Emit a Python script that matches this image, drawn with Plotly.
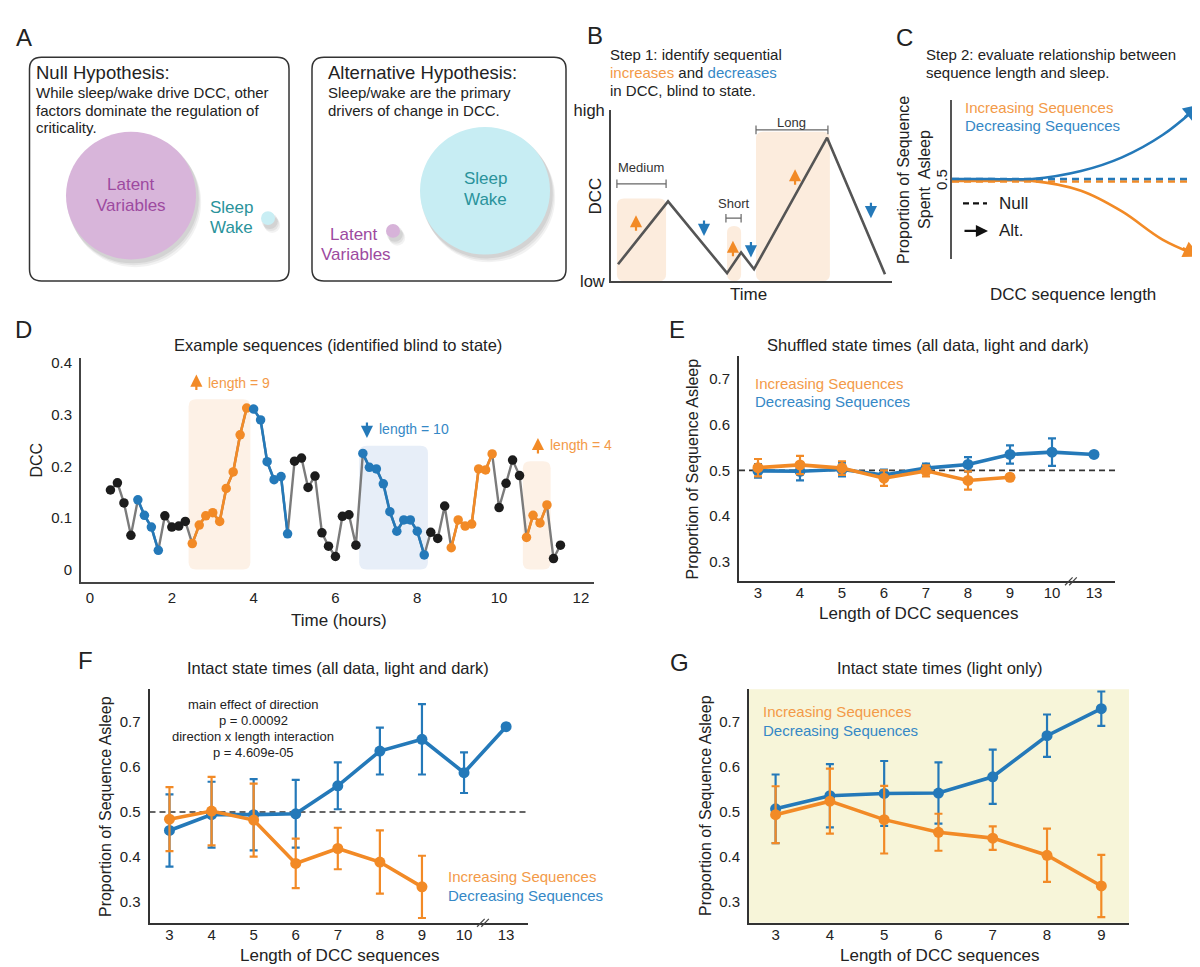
import plotly.graph_objects as go

# ======================= DATA =======================
# Panel D: example DCC trace (10-min bins)
dcc_time_hours = [0.50, 0.67, 0.83,
                  1.00, 1.17, 1.33, 1.50, 1.67, 1.83,
                  2.00, 2.17, 2.33, 2.50, 2.67, 2.83,
                  3.00, 3.17, 3.33, 3.50, 3.67, 3.83,
                  4.00, 4.17, 4.33, 4.50, 4.67, 4.83,
                  5.00, 5.17, 5.33, 5.50, 5.67, 5.83,
                  6.00, 6.17, 6.33, 6.50, 6.67, 6.83,
                  7.00, 7.17, 7.33, 7.50, 7.67, 7.83,
                  8.00, 8.17, 8.33, 8.50, 8.67, 8.83,
                  9.00, 9.17, 9.33, 9.50, 9.67, 9.83,
                  10.00, 10.17, 10.33, 10.50, 10.67, 10.83,
                  11.00, 11.17, 11.33, 11.50]
dcc_values = [0.154, 0.168, 0.129, 0.066,
              0.135, 0.105, 0.082, 0.037,
              0.104, 0.082, 0.084, 0.093,
              0.050, 0.086, 0.104, 0.110, 0.093, 0.157, 0.189, 0.261, 0.313,
              0.311, 0.290, 0.209, 0.174, 0.180, 0.069,
              0.210, 0.216, 0.159, 0.181, 0.071, 0.045, 0.025, 0.103, 0.106, 0.047,
              0.225, 0.198, 0.195, 0.166, 0.112, 0.074, 0.096, 0.096, 0.074, 0.028,
              0.072, 0.060, 0.123,
              0.042, 0.096, 0.084, 0.088, 0.195, 0.193, 0.224,
              0.120, 0.167, 0.212, 0.182,
              0.062, 0.105, 0.090, 0.125,
              0.021, 0.047]
dcc_state = list("nnnn" + "dddd" + "nnnn" + "iiiiiiiii" + "dddddd" + "nnnnnnnnnn"
                 + "dddddddddd" + "nnn" + "iiiiiii" + "nnnn" + "iiii" + "nn")
highlight_runs = [(12, 20), (37, 46), (61, 64)]
highlight_state = ["i", "d", "i"]
highlight_top = [0.33, 0.24, 0.21]

# Panels E/F/G
length_categories = ["3", "4", "5", "6", "7", "8", "9", "10", "13"]
light_categories = ["3", "4", "5", "6", "7", "8", "9"]

e_inc_mean = [0.506, 0.512, 0.505, 0.483, 0.499, 0.478, 0.485]
e_inc_err = [0.019, 0.020, 0.015, 0.017, 0.012, 0.020, 0.006]
e_dec_mean = [0.499, 0.498, 0.502, 0.490, 0.505, 0.513, 0.535, 0.540, 0.535]
e_dec_err = [0.015, 0.020, 0.015, 0.012, 0.010, 0.016, 0.020, 0.030, 0.0]

f_inc_mean = [0.484, 0.502, 0.482, 0.386, 0.419, 0.389, 0.334]
f_inc_err = [0.071, 0.076, 0.081, 0.055, 0.046, 0.070, 0.069]
f_dec_mean = [0.459, 0.494, 0.494, 0.496, 0.558, 0.635, 0.661, 0.587, 0.689]
f_dec_err = [0.080, 0.073, 0.079, 0.075, 0.052, 0.052, 0.078, 0.045, 0.0]

g_inc_mean = [0.494, 0.524, 0.483, 0.455, 0.442, 0.404, 0.336]
g_inc_err = [0.063, 0.072, 0.075, 0.041, 0.026, 0.059, 0.069]
g_dec_mean = [0.507, 0.536, 0.541, 0.542, 0.578, 0.669, 0.729]
g_dec_err = [0.076, 0.070, 0.072, 0.068, 0.060, 0.047, 0.038]

# Panel B schematic (arbitrary units)
b_time = [0.25, 2.03, 4.13, 4.63, 5.09, 7.69, 9.75]
b_level = [0.98, 4.66, 0.46, 1.67, 0.69, 8.39, 0.40]
b_seq_names = ["Medium", "Short", "Long"]
b_seq_start = [0.21, 4.13, 5.16]
b_seq_end = [1.96, 4.63, 7.79]
b_seq_top = [4.83, 3.22, 8.74]

# Panel C schematic (arbitrary units)
c_length = [0, 1.5, 3.13, 5.04, 6.64, 8.24, 9.70]
c_dec_alt = [5.06, 5.06, 5.06, 5.56, 6.42, 7.84, 9.75]
c_inc_alt = [4.94, 4.94, 4.94, 4.32, 3.02, 1.23, 0.18]
c_null_dec = 5.06
c_null_inc = 4.90

# ======================= STYLE =======================
W, H = 1200, 967
FONT = "Liberation Sans, Arial, sans-serif"
ORANGE = "#f28a26"
BLUE = "#2479b9"
ORANGE_T = "#f39a48"
BLUE_T = "#3588c6"
TXT = "#222222"


def PX(x):
    return x / W


def PY(y):
    return 1 - y / H


annotations = []
shapes = []


def ann(text, x, y, size, color=TXT, xanchor="center", yanchor="middle", angle=0):
    annotations.append(dict(text=text, x=PX(x), y=PY(y), xref="paper", yref="paper",
                            showarrow=False, xanchor=xanchor, yanchor=yanchor,
                            textangle=angle, font=dict(size=size, color=color, family=FONT)))


def rrect_px(x0, y0, x1, y1, r):
    pts = [("M", x0 + r, y0), ("L", x1 - r, y0), ("Q", x1, y0, x1, y0 + r),
           ("L", x1, y1 - r), ("Q", x1, y1, x1 - r, y1), ("L", x0 + r, y1),
           ("Q", x0, y1, x0, y1 - r), ("L", x0, y0 + r), ("Q", x0, y0, x0 + r, y0)]
    s = ""
    for p in pts:
        cmd = p[0]
        coords = p[1:]
        conv = []
        for i in range(0, len(coords), 2):
            conv.append(f"{PX(coords[i]):.5f},{PY(coords[i+1]):.5f}")
        s += cmd + " " + " ".join(conv) + " "
    return s + "Z"


def rrect_data(x0, y0, x1, y1, rx, ry):
    return (f"M {x0+rx},{y0} L {x1-rx},{y0} Q {x1},{y0} {x1},{y0+ry} L {x1},{y1-ry} "
            f"Q {x1},{y1} {x1-rx},{y1} L {x0+rx},{y1} Q {x0},{y1} {x0},{y1-ry} "
            f"L {x0},{y0+ry} Q {x0},{y0} {x0+rx},{y0} Z")


def circle_px(cx, cy, r, fill, opacity=1.0):
    shapes.append(dict(type="circle", xref="paper", yref="paper",
                       x0=PX(cx - r), x1=PX(cx + r), y0=PY(cy + r), y1=PY(cy - r),
                       fillcolor=fill, line=dict(width=0), opacity=opacity, layer="above"))


fig = go.Figure()

# ======================= PANEL A =======================
for (x0, x1) in [(21.5, 281), (304, 558)]:
    shapes.append(dict(type="path", path=rrect_px(x0, 41, x1, 269, 12), xref="paper", yref="paper",
                       line=dict(color="#333333", width=1.5), fillcolor="rgba(0,0,0,0)"))


def shadowed_circle(cx, cy, r, fill):
    for k, op in [(7, 0.05), (5, 0.06), (3, 0.07)]:
        circle_px(cx + k * 0.6, cy + k, r + 1, "#000000", op)
    circle_px(cx, cy, r, fill)


shadowed_circle(123, 182, 65, "#d8b5da")
shadowed_circle(260, 205, 7, "#c9eef4")
shadowed_circle(477, 177, 65, "#c7edf3")
shadowed_circle(385, 218, 7, "#d7b3d9")

ann("A", 16, 21, 24)
ann("Null Hypothesis:", 26, 57, 18.5, xanchor="left")
ann("While sleep/wake drive DCC, other", 26, 77, 15, xanchor="left")
ann("factors dominate the regulation of", 26, 95, 15, xanchor="left")
ann("criticality.", 26, 113, 15, xanchor="left")
ann("Alternative Hypothesis:", 318, 57, 18.5, xanchor="left")
ann("Sleep/wake are the primary", 318, 77, 15, xanchor="left")
ann("drivers of change in DCC.", 318, 95, 15, xanchor="left")
PURP = "#9d4aa0"
TEAL = "#2a939b"
ann("Latent", 123, 171, 17, PURP)
ann("Variables", 123, 192, 17, PURP)
ann("Sleep", 223, 194, 17, TEAL)
ann("Wake", 223, 215, 17, TEAL)
ann("Sleep", 477, 165, 17, TEAL)
ann("Wake", 477, 186, 17, TEAL)
ann("Latent", 346, 222, 17, PURP)
ann("Variables", 348, 242, 17, PURP)

# ======================= PANEL B =======================
ann("B", 587, 19, 24)
ann("Step 1: identify sequential", 600, 38, 15, xanchor="left")
ann(f"<span style='color:{ORANGE_T}'>increases</span> and <span style='color:{BLUE_T}'>decreases</span>",
    600, 57, 15, xanchor="left")
ann("in DCC, blind to state.", 600, 75, 15, xanchor="left")
ann("DCC", 588, 183, 17, angle=-90)
ann("Time", 740, 283, 17)

for s0, s1, top in zip(b_seq_start, b_seq_end, b_seq_top):
    shapes.append(dict(type="path", xref="x5", yref="y5", layer="below",
                       path=rrect_data(s0, 0, s1, top, 0.25, 0.4),
                       fillcolor="#fcecdd", line=dict(width=0)))
fig.add_trace(go.Scatter(x=b_time, y=b_level, mode="lines", xaxis="x5", yaxis="y5",
                         line=dict(color="#555555", width=2.6), hoverinfo="skip", showlegend=False))
bracket_y = [5.69, 3.68, 8.85]
bracket_text_y = [6.67, 4.54, 9.31]
bracket_x = [(0.21, 1.96), (4.09, 4.63), (5.16, 7.72)]
for name, (bx0, bx1), by, ty in zip(b_seq_names, bracket_x, bracket_y, bracket_text_y):
    shapes.append(dict(type="line", xref="x5", yref="y5", x0=bx0, x1=bx1, y0=by, y1=by,
                       line=dict(color="#666666", width=1.2)))
    for bx in (bx0, bx1):
        shapes.append(dict(type="line", xref="x5", yref="y5", x0=bx, x1=bx, y0=by - 0.25, y1=by + 0.25,
                           line=dict(color="#666666", width=1.2)))
    annotations.append(dict(text=name, x=(bx0 + bx1) / 2, y=ty, xref="x5", yref="y5", showarrow=False,
                            font=dict(size=13, color="#333333", family=FONT)))
b_arrows = [(0.89, 3.85, ORANGE, 1), (3.31, 2.64, BLUE, -1), (4.34, 2.36, ORANGE, 1),
            (4.98, 1.38, BLUE, -1), (6.55, 6.55, ORANGE, 1), (9.25, 3.68, BLUE, -1)]
for ax_, ay_, col, d in b_arrows:
    annotations.append(dict(text="", x=ax_, y=ay_, xref="x5", yref="y5", showarrow=True,
                            ax=0, ay=17 * d, arrowhead=2, arrowsize=1.1, arrowwidth=2.2,
                            arrowcolor=col))

# ======================= PANEL C =======================
ann("C", 896, 21, 24)
ann("Step 2: evaluate relationship between", 916, 38, 15, xanchor="left")
ann("sequence length and sleep.", 916, 57, 15, xanchor="left")
ann("Proportion of Sequence", 896, 166, 16, angle=-90)
ann("Spent  Asleep", 917, 166, 16, angle=-90)
ann("0.5", 934, 166, 15, angle=-90)
ann("Increasing Sequences", 955, 92, 15, ORANGE_T, xanchor="left")
ann("Decreasing Sequences", 955, 111, 15, BLUE_T, xanchor="left")
ann("DCC sequence length", 1065, 283, 17)
ann("Null", 989, 190, 17, xanchor="left")
ann("Alt.", 989, 218, 17, xanchor="left")
shapes.append(dict(type="line", xref="paper", yref="paper", x0=PX(955), x1=PX(979), y0=PY(190), y1=PY(190),
                   line=dict(color="#111111", width=2.2, dash="6px,4px")))
annotations.append(dict(text="", x=PX(980), y=PY(218), xref="paper", yref="paper", showarrow=True,
                        ax=-25, ay=0, arrowhead=2, arrowsize=1.1, arrowwidth=2.2, arrowcolor="#111111"))
for yv, col in [(c_null_inc, ORANGE), (c_null_dec, BLUE)]:
    shapes.append(dict(type="line", xref="x6", yref="y6", x0=0, x1=10, y0=yv, y1=yv,
                       line=dict(color=col, width=2.4, dash="7px,5px")))
fig.add_trace(go.Scatter(x=c_length, y=c_inc_alt, mode="lines", xaxis="x6", yaxis="y6",
                         line=dict(color=ORANGE, width=2.6, shape="spline", smoothing=1.0),
                         hoverinfo="skip", showlegend=False))
fig.add_trace(go.Scatter(x=c_length, y=c_dec_alt, mode="lines", xaxis="x6", yaxis="y6",
                         line=dict(color=BLUE, width=2.6, shape="spline", smoothing=1.0),
                         hoverinfo="skip", showlegend=False))
annotations.append(dict(text="", x=c_length[-1], y=c_dec_alt[-1], xref="x6", yref="y6", showarrow=True,
                        ax=-17, ay=14, arrowhead=2, arrowsize=1.3, arrowwidth=2.6, arrowcolor=BLUE))
annotations.append(dict(text="", x=c_length[-1], y=c_inc_alt[-1], xref="x6", yref="y6", showarrow=True,
                        ax=-19, ay=-9, arrowhead=2, arrowsize=1.3, arrowwidth=2.6, arrowcolor=ORANGE))

# ======================= PANEL D =======================
ann("D", 15, 318, 24)
ann("Example sequences (identified blind to state)", 330, 334, 16.5)
ann("DCC", 29, 452, 16, angle=-90)
ann("Time (hours)", 331, 615, 17)

state_color = {"n": "#1c1c1c", "i": ORANGE, "d": BLUE}
for (i0, i1), st, top in zip(highlight_runs, highlight_state, highlight_top):
    x0 = dcc_time_hours[i0] - 0.09
    x1 = dcc_time_hours[i1] + 0.09
    shapes.append(dict(type="path", xref="x", yref="y", layer="below",
                       path=rrect_data(x0, 0, x1, top, 0.18, 0.014),
                       fillcolor="#fdf1e6" if st == "i" else "#e7eef8", line=dict(width=0)))

fig.add_trace(go.Scatter(x=dcc_time_hours, y=dcc_values, mode="lines", xaxis="x", yaxis="y",
                         line=dict(color="#7b7b7b", width=2.4), hoverinfo="skip", showlegend=False))
for st in ["i", "d"]:
    xs, ys = [], []
    for k in range(len(dcc_values) - 1):
        if dcc_state[k] != "n" and dcc_state[k + 1] == st:
            xs += [dcc_time_hours[k], dcc_time_hours[k + 1], None]
            ys += [dcc_values[k], dcc_values[k + 1], None]
    fig.add_trace(go.Scatter(x=xs, y=ys, mode="lines", xaxis="x", yaxis="y",
                             line=dict(color=state_color[st], width=2.6), hoverinfo="skip",
                             showlegend=False))
fig.add_trace(go.Scatter(x=dcc_time_hours, y=dcc_values, mode="markers", xaxis="x", yaxis="y",
                         marker=dict(size=9.5, color=[state_color[s] for s in dcc_state]),
                         hoverinfo="skip", showlegend=False))
seq_label_pos = [(2.60, 0.378, 0.362), (6.77, 0.255, 0.272), (10.95, 0.255, 0.241)]
for (i0, i1), st, (tx, tip, ly) in zip(highlight_runs, highlight_state, seq_label_pos):
    col = ORANGE if st == "i" else BLUE
    annotations.append(dict(text="", x=tx, y=tip, xref="x", yref="y", showarrow=True,
                            ax=0, ay=17 if st == "i" else -17, arrowhead=2, arrowsize=1.1,
                            arrowwidth=2.2, arrowcolor=col))
    annotations.append(dict(text=f"length = {i1 - i0 + 1}", x=tx + 0.24, y=ly, xref="x", yref="y",
                            showarrow=False, xanchor="left",
                            font=dict(size=14, color=ORANGE_T if st == "i" else BLUE_T, family=FONT)))

# ======================= PANELS E/F/G =======================
def add_series(xax, yax, cats_dec, dec_m, dec_e, cats_inc, inc_m, inc_e):
    for cats, m, e, col in [(cats_dec, dec_m, dec_e, BLUE), (cats_inc, inc_m, inc_e, ORANGE)]:
        fig.add_trace(go.Scatter(x=cats, y=m, mode="lines+markers", xaxis=xax, yaxis=yax,
                                 line=dict(color=col, width=3.6), marker=dict(size=11, color=col),
                                 error_y=dict(type="data", array=e, color=col, thickness=2.2, width=4),
                                 hoverinfo="skip", showlegend=False))


add_series("x2", "y2", length_categories, e_dec_mean, e_dec_err, length_categories[:7], e_inc_mean, e_inc_err)
add_series("x3", "y3", length_categories, f_dec_mean, f_dec_err, length_categories[:7], f_inc_mean, f_inc_err)
add_series("x4", "y4", light_categories, g_dec_mean, g_dec_err, light_categories, g_inc_mean, g_inc_err)

for xa, ya in [("x2", "y2"), ("x3", "y3"), ("x4", "y4")]:
    shapes.append(dict(type="line", xref=f"{xa} domain", yref=ya, x0=0, x1=1, y0=0.5, y1=0.5,
                       line=dict(color="#333333", width=1.6, dash="6px,4px"), layer="below"))
shapes.append(dict(type="rect", xref="x4 domain", yref="y4 domain", x0=0, x1=1, y0=0, y1=1,
                   fillcolor="#f7f5d9", line=dict(width=0), layer="below"))

# axis-break marks between 10 and 13
for xa, ybot in [("x2", 575), ("x3", 923)]:
    for off in (-0.1, 0.0):
        shapes.append(dict(type="line", xref=xa, yref="paper", x0=7.5 + off - 0.09, x1=7.5 + off + 0.09,
                           y0=PY(ybot + 4), y1=PY(ybot - 4), line=dict(color="#444444", width=1.2)))

ann("E", 669, 318, 24)
ann("Shuffled state times (all data, light and dark)", 920, 334, 16.5)
ann("Proportion of Sequence Asleep", 684, 460, 16, angle=-90)
ann("Length of DCC sequences", 910, 608, 17)
ann("Increasing Sequences", 745, 373, 15, ORANGE_T, xanchor="left")
ann("Decreasing Sequences", 745, 392, 15, BLUE_T, xanchor="left")

ann("F", 77, 656, 24)
ann("Intact state times (all data, light and dark)", 330, 663, 16.5)
ann("Proportion of Sequence Asleep", 97, 804, 16, angle=-90)
ann("Length of DCC sequences", 331, 956, 17)
ann("main effect of direction", 245, 701, 13)
ann("p = 0.00092", 245, 717, 13)
ann("direction x length interaction", 245, 733, 13)
ann("p = 4.609e-05", 245, 749, 13)
ann("Increasing Sequences", 438, 876, 15, ORANGE_T, xanchor="left")
ann("Decreasing Sequences", 438, 895, 15, BLUE_T, xanchor="left")

ann("G", 671, 658, 24)
ann("Intact state times (light only)", 931, 663, 16.5)
ann("Proportion of Sequence Asleep", 697, 804, 16, angle=-90)
ann("Length of DCC sequences", 931, 956, 17)
ann("Increasing Sequences", 753, 708, 15, ORANGE_T, xanchor="left")
ann("Decreasing Sequences", 753, 727, 15, BLUE_T, xanchor="left")

# ======================= LAYOUT =======================
tickfont = dict(size=15, color=TXT, family=FONT)


def xax(domain, rng, **kw):
    d = dict(domain=[PX(domain[0]), PX(domain[1])], range=rng, showline=True, linecolor="#333333",
             linewidth=2, showgrid=False, zeroline=False, ticks="", ticklabelstandoff=-3,
             tickfont=tickfont, fixedrange=True)
    d.update(kw)
    return d


def yax(domain, rng, **kw):
    d = dict(domain=[PY(domain[1]), PY(domain[0])], range=rng, showline=True, linecolor="#333333",
             linewidth=2, showgrid=False, zeroline=False, ticks="outside", ticklen=4,
             tickcolor="rgba(0,0,0,0)", tickfont=tickfont, fixedrange=True)
    d.update(kw)
    return d


prop_ticks = [0.3, 0.4, 0.5, 0.6, 0.7]
fig.update_layout(
    width=W, height=H, margin=dict(l=0, r=0, t=0, b=0),
    paper_bgcolor="white", plot_bgcolor="rgba(0,0,0,0)",
    font=dict(family=FONT, color=TXT),
    showlegend=False,
    xaxis=xax((73, 586), [-0.22, 12.32], tickvals=[0, 2, 4, 6, 8, 10, 12], linecolor="#444444",
              ticklabelstandoff=1),
    yaxis=yax((347, 576), [-0.025, 0.411], anchor="x", tickvals=[0, 0.1, 0.2, 0.3, 0.4],
              ticktext=["0", "0.1", "0.2", "0.3", "0.4"], linecolor="#444444"),
    xaxis2=xax((731, 1107), [-0.452, 8.5], type="category", categoryorder="array",
               categoryarray=length_categories, anchor="y2"),
    yaxis2=yax((345, 575), [0.257, 0.7516], anchor="x2", tickvals=prop_ticks),
    xaxis3=xax((141.5, 520), [-0.475, 8.52], type="category", categoryorder="array",
               categoryarray=length_categories, anchor="y3"),
    yaxis3=yax((685, 923), [0.2543, 0.772], anchor="x3", tickvals=prop_ticks),
    xaxis4=xax((741, 1121), [-0.49, 6.51], type="category", categoryorder="array",
               categoryarray=light_categories, anchor="y4"),
    yaxis4=yax((685, 923), [0.2543, 0.772], anchor="x4", tickvals=prop_ticks),
    xaxis5=xax((603, 884), [0, 10], anchor="y5", showticklabels=False, linecolor="#444444",
               linewidth=1.8),
    yaxis5=yax((95, 269), [0, 10], anchor="x5", tickvals=[0, 10], ticktext=["low", "high"],
               tickfont=dict(size=16.5, color=TXT, family=FONT), ticklen=1, linecolor="#444444",
               linewidth=1.8),
    xaxis6=xax((944, 1200), [0, 10], anchor="y6", visible=False),
    yaxis6=yax((85, 247), [0, 10], anchor="x6", showticklabels=False, ticks="", linecolor="#555555",
               linewidth=1.5),
    shapes=shapes,
    annotations=annotations,
)

fig.write_html("out.html")
